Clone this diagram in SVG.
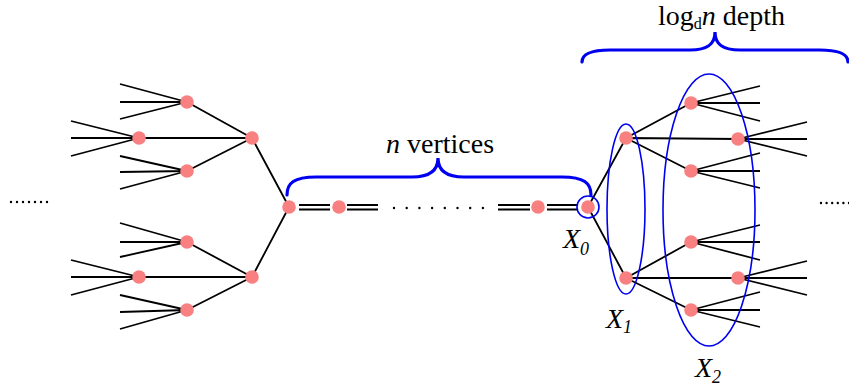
<svg xmlns="http://www.w3.org/2000/svg" width="849" height="389" viewBox="0 0 849 389">
<style>
.e{stroke:#000;stroke-width:1.8;fill:none}
.n{fill:#f88080}
.br{stroke:#0000f0;stroke-width:3.2;fill:none;stroke-linecap:round}
.el{stroke:#0000f0;stroke-width:1.6;fill:none}
.dots{stroke:#000;stroke-width:2.4;stroke-linecap:round;fill:none}
.t{font-family:"Liberation Serif","Times New Roman",serif;font-size:28px;fill:#000}
.i{font-style:italic}
</style>
<rect width="849" height="389" fill="#fff"/>
<g id="connectors">
<path class="e" d="M289,207 L252,138 M289,207 L252,277 M252,138 L187,102 M252,138 L139,138 M252,138 L187,171 M252,277 L187,242 M252,277 L139,277 M252,277 L187,310"/>
<path class="e" d="M187,102 L120,84 M187,102 L120,102 M187,102 L120,119 M139,138 L71,121 M139,138 L71,138 M139,138 L71,156 M187,171 L120,156 M187,171 L120,172 M187,171 L120,189"/>
<path class="e" d="M187,242 L120,223 M187,242 L120,242 M187,242 L120,257 M139,277 L71,260 M139,277 L71,277 M139,277 L71,295 M187,310 L120,295 M187,310 L120,312 M187,310 L120,329"/>
<path class="e" stroke-width="1.6" d="M299,205 L330,205 M299,209.5 L330,209.5 M347,205 L378,205 M347,209.5 L378,209.5 M498,205 L530,205 M498,209.5 L530,209.5 M547,205 L578,205 M547,209.5 L578,209.5"/>
<path class="e" d="M588,207 L626,138 M588,207 L626,278 M626,138 L691,103 M626,138 L738,139 M626,138 L691,171 M626,278 L691,242 M626,278 L738,278 M626,278 L691,310"/>
<path class="e" d="M691,103 L760,86 M691,103 L760,103 M691,103 L760,121 M738,139 L807,122 M738,139 L807,139 M738,139 L807,156 M691,171 L760,153 M691,171 L760,171 M691,171 L760,188"/>
<path class="e" d="M691,242 L760,225 M691,242 L760,242 M691,242 L760,260 M738,278 L807,261 M738,278 L807,278 M738,278 L807,295 M691,310 L760,292 M691,310 L760,310 M691,310 L760,327"/>
</g>
<g id="dots">
<path class="dots" stroke-dasharray="0 6" d="M11,202 L48,202"/>
<path class="dots" stroke-dasharray="0 12.7" d="M394,208 L485,208"/>
<path class="dots" stroke-dasharray="0 5.6" d="M821,203 L849,203"/>
</g>
<g id="left-tree-nodes">
<circle class="n" cx="289" cy="207" r="6.8"/>
<circle class="n" cx="252" cy="138" r="6.8"/>
<circle class="n" cx="252" cy="277" r="6.8"/>
<circle class="n" cx="187" cy="102" r="6.8"/>
<circle class="n" cx="139" cy="138" r="6.8"/>
<circle class="n" cx="187" cy="171" r="6.8"/>
<circle class="n" cx="187" cy="242" r="6.8"/>
<circle class="n" cx="139" cy="277" r="6.8"/>
<circle class="n" cx="187" cy="310" r="6.8"/>
</g>
<g id="chain-nodes">
<circle class="n" cx="339" cy="207" r="6.8"/>
<circle class="n" cx="538" cy="207" r="6.8"/>
</g>
<g id="x0">
<circle class="n" cx="588" cy="207" r="6.8"/>
<circle class="el" cx="588" cy="207" r="11"/>
<text class="t i" x="563" y="248">X<tspan font-size="18" dy="7">0</tspan></text>
</g>
<g id="x1">
<ellipse class="el" cx="626" cy="209" rx="19" ry="85"/>
<circle class="n" cx="626" cy="138" r="6.8"/>
<circle class="n" cx="626" cy="278" r="6.8"/>
<text class="t i" x="606" y="328">X<tspan font-size="18" dy="5">1</tspan></text>
</g>
<g id="x2">
<ellipse class="el" cx="709" cy="210" rx="46" ry="136"/>
<circle class="n" cx="691" cy="103" r="6.8"/>
<circle class="n" cx="738" cy="139" r="6.8"/>
<circle class="n" cx="691" cy="171" r="6.8"/>
<circle class="n" cx="691" cy="242" r="6.8"/>
<circle class="n" cx="738" cy="278" r="6.8"/>
<circle class="n" cx="691" cy="310" r="6.8"/>
<text class="t i" x="695" y="377">X<tspan font-size="18" dy="6">2</tspan></text>
</g>
<g id="n-vertices">
<path class="br" d="M287,195 C287,183 294,177 316,177 L412,177 C430,177 438,170 438,158 C438,170 446,177 464,177 L562,177 C584,177 591,183 591,195"/>
<text class="t" x="440" y="153" text-anchor="middle"><tspan class="i">n</tspan> vertices</text>
</g>
<g id="depth">
<path class="br" d="M582,62 C582,54 590,50 610,50 L690,50 C708,50 715,44 715,32 C715,44 722,50 740,50 L820,50 C840,50 848,54 848,62"/>
<text class="t" x="658" y="24.5" font-size="26.5">log<tspan font-size="16" dy="4">d</tspan><tspan class="i" dy="-4">n</tspan> depth</text>
</g>
</svg>
